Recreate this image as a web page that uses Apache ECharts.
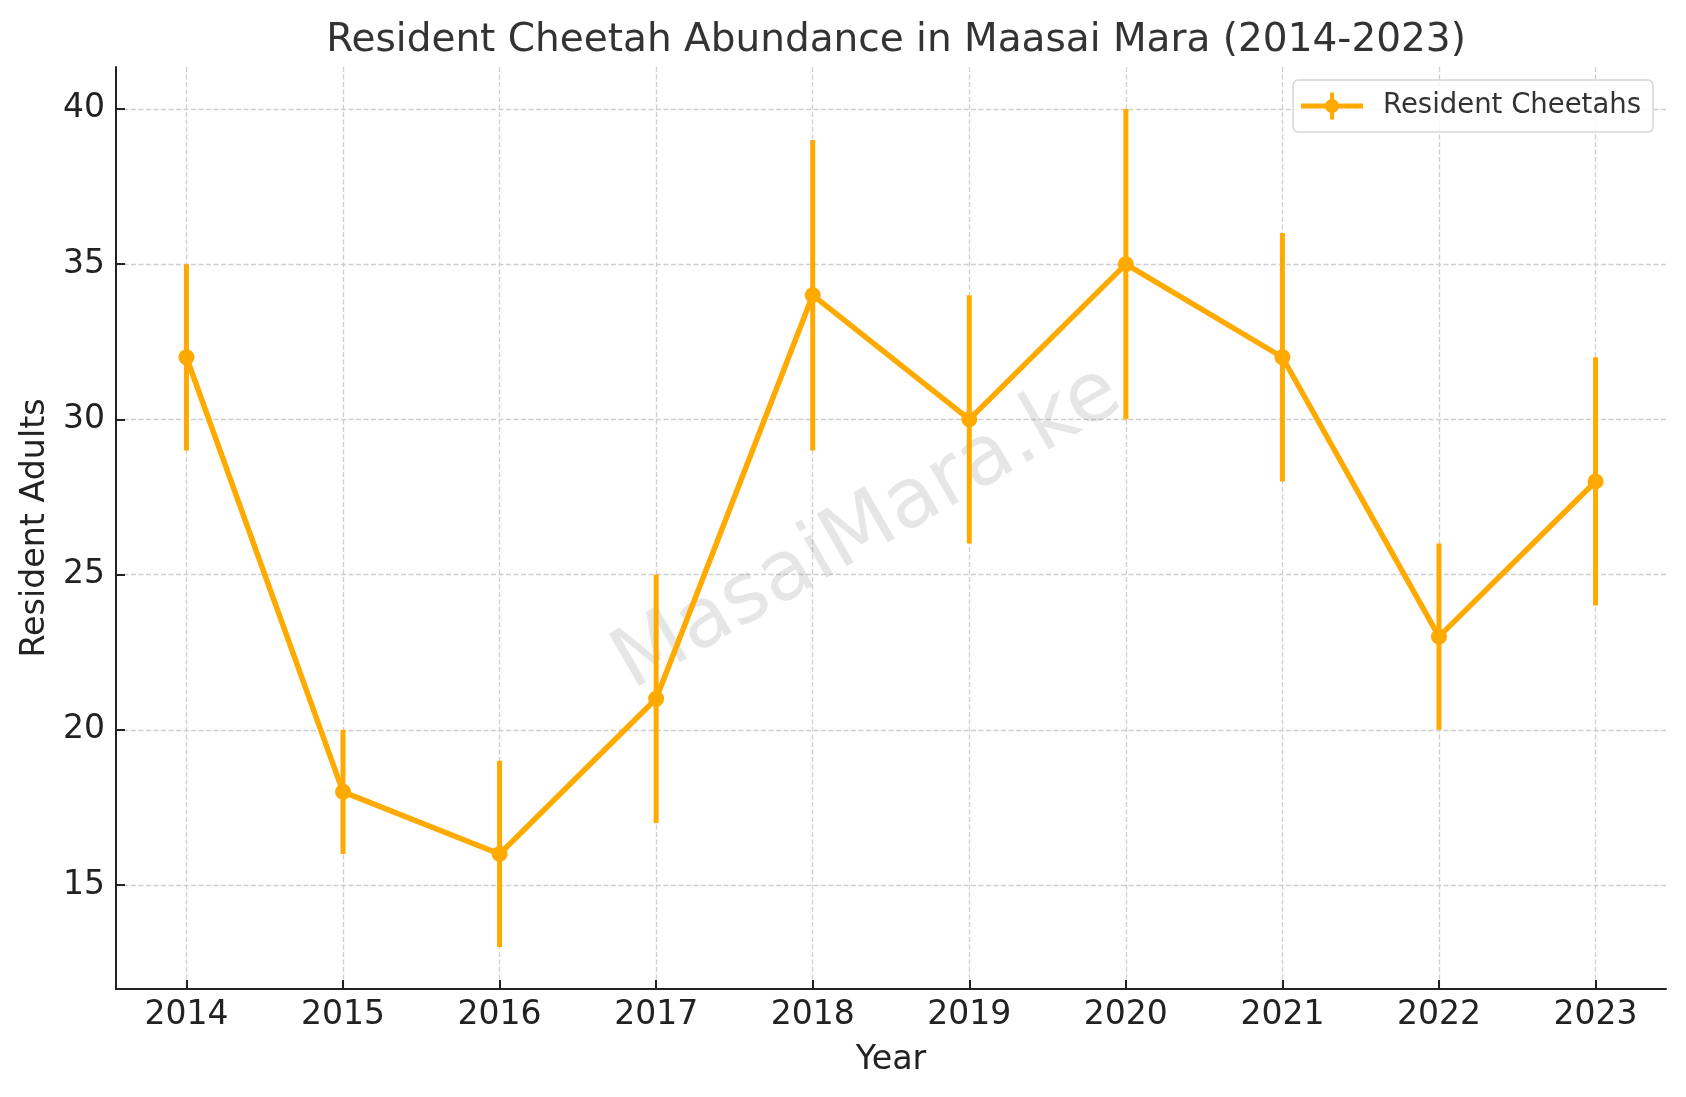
<!DOCTYPE html>
<html>
<head>
<meta charset="utf-8">
<script src="https://cdn.jsdelivr.net/npm/echarts@6/dist/echarts.min.js"></script>
<style>
html,body{margin:0;padding:0;background:#fff;}
#chart{width:1686px;height:1097px;}
</style>
</head>
<body>
<div id="chart"></div>
<script>
const years = [2014, 2015, 2016, 2017, 2018, 2019, 2020, 2021, 2022, 2023];
const residentAdults = [32, 18, 16, 21, 34, 30, 35, 32, 23, 28];
const errLow = [29, 16, 13, 17, 29, 26, 30, 28, 20, 24];
const errHigh = [35, 20, 19, 25, 39, 34, 40, 36, 26, 32];
const yTicks = [15, 20, 25, 30, 35, 40];
const xTicks = years;

const FONT = 'DejaVu Sans';
const ORANGE = '#FFAA00';

const lineData = years.map((y, i) => [y, residentAdults[i]]);
const errData = years.map((y, i) => [y, errLow[i], errHigh[i]]);

const legendIcon = 'path://M0,11h62v5H0z M29,0h4v27h-4z M24,13.5a7,7 0 1,1 14,0a7,7 0 1,1 -14,0z';

const chart = echarts.init(document.getElementById('chart'), null, {renderer: 'canvas'});
chart.setOption({
  backgroundColor: '#ffffff',
  animation: false,
  title: {
    text: 'Resident Cheetah Abundance in Maasai Mara (2014-2023)',
    left: 891, textAlign: 'center', top: 16,
    textStyle: {fontFamily: FONT, fontSize: 39, fontWeight: 'normal', color: '#333333'}
  },
  legend: {
    data: [{name: 'Resident Cheetahs', icon: legendIcon}],
    right: 33, top: 80,
    itemWidth: 62, itemHeight: 27,
    padding: [12, 12, 12, 8],
    borderColor: '#d6d6d6', borderWidth: 1.5, borderRadius: 5,
    backgroundColor: 'rgba(255,255,255,0.8)',
    textStyle: {fontFamily: FONT, fontSize: 27.5, color: '#333333', padding: [0, 0, 0, 15]}
  },
  grid: {left: 116, right: 20, top: 67, bottom: 108, containLabel: false},
  xAxis: {
    type: 'value', min: 2013.55, max: 2023.45,
    name: 'Year', nameLocation: 'middle', nameGap: 55,
    nameTextStyle: {fontFamily: FONT, fontSize: 33.3, color: '#222222'},
    axisLine: {show: true, lineStyle: {color: '#222222', width: 2}},
    axisTick: {show: true, inside: true, length: 9, customValues: xTicks, lineStyle: {color: '#222222', width: 2}},
    axisLabel: {customValues: xTicks, fontFamily: FONT, fontSize: 33, color: '#222222', margin: 10, formatter: v => String(v)},
    splitLine: {show: true, lineStyle: {color: '#cfcfcf', width: 1.3, type: [5, 2.5]}}
  },
  yAxis: {
    type: 'value', min: 11.65, max: 41.35,
    name: 'Resident Adults', nameLocation: 'middle', nameGap: 63, nameRotate: 90,
    nameTextStyle: {fontFamily: FONT, fontSize: 33.3, color: '#222222'},
    axisLine: {show: true, lineStyle: {color: '#222222', width: 2}},
    axisTick: {show: true, inside: true, length: 9, customValues: yTicks, lineStyle: {color: '#222222', width: 2}},
    axisLabel: {customValues: yTicks, fontFamily: FONT, fontSize: 33, color: '#222222', margin: 11},
    splitLine: {show: true, lineStyle: {color: '#cfcfcf', width: 1.3, type: [5, 2.5]}}
  },
  graphic: [{
    type: 'text', x: 868, y: 529, rotation: Math.PI / 6, z: 1,
    style: {text: 'MasaiMara.ke', fontFamily: FONT, fontSize: 83, fill: 'rgba(128,128,128,0.2)', align: 'center', verticalAlign: 'middle'}
  }],
  series: [
    {
      name: 'errors', type: 'custom', z: 3,
      data: errData,
      renderItem: function (params, api) {
        const x = api.value(0);
        const p1 = api.coord([x, api.value(1)]);
        const p2 = api.coord([x, api.value(2)]);
        return {type: 'line', shape: {x1: p1[0], y1: p1[1], x2: p2[0], y2: p2[1]},
          style: {stroke: ORANGE, lineWidth: 5, lineCap: 'butt'}};
      }
    },
    {
      name: 'Resident Cheetahs', type: 'line', z: 4,
      data: lineData,
      symbol: 'circle', symbolSize: 16, showAllSymbol: true,
      itemStyle: {color: ORANGE},
      lineStyle: {color: ORANGE, width: 5.5, join: 'round', cap: 'round'}
    }
  ]
});
</script>
</body>
</html>
